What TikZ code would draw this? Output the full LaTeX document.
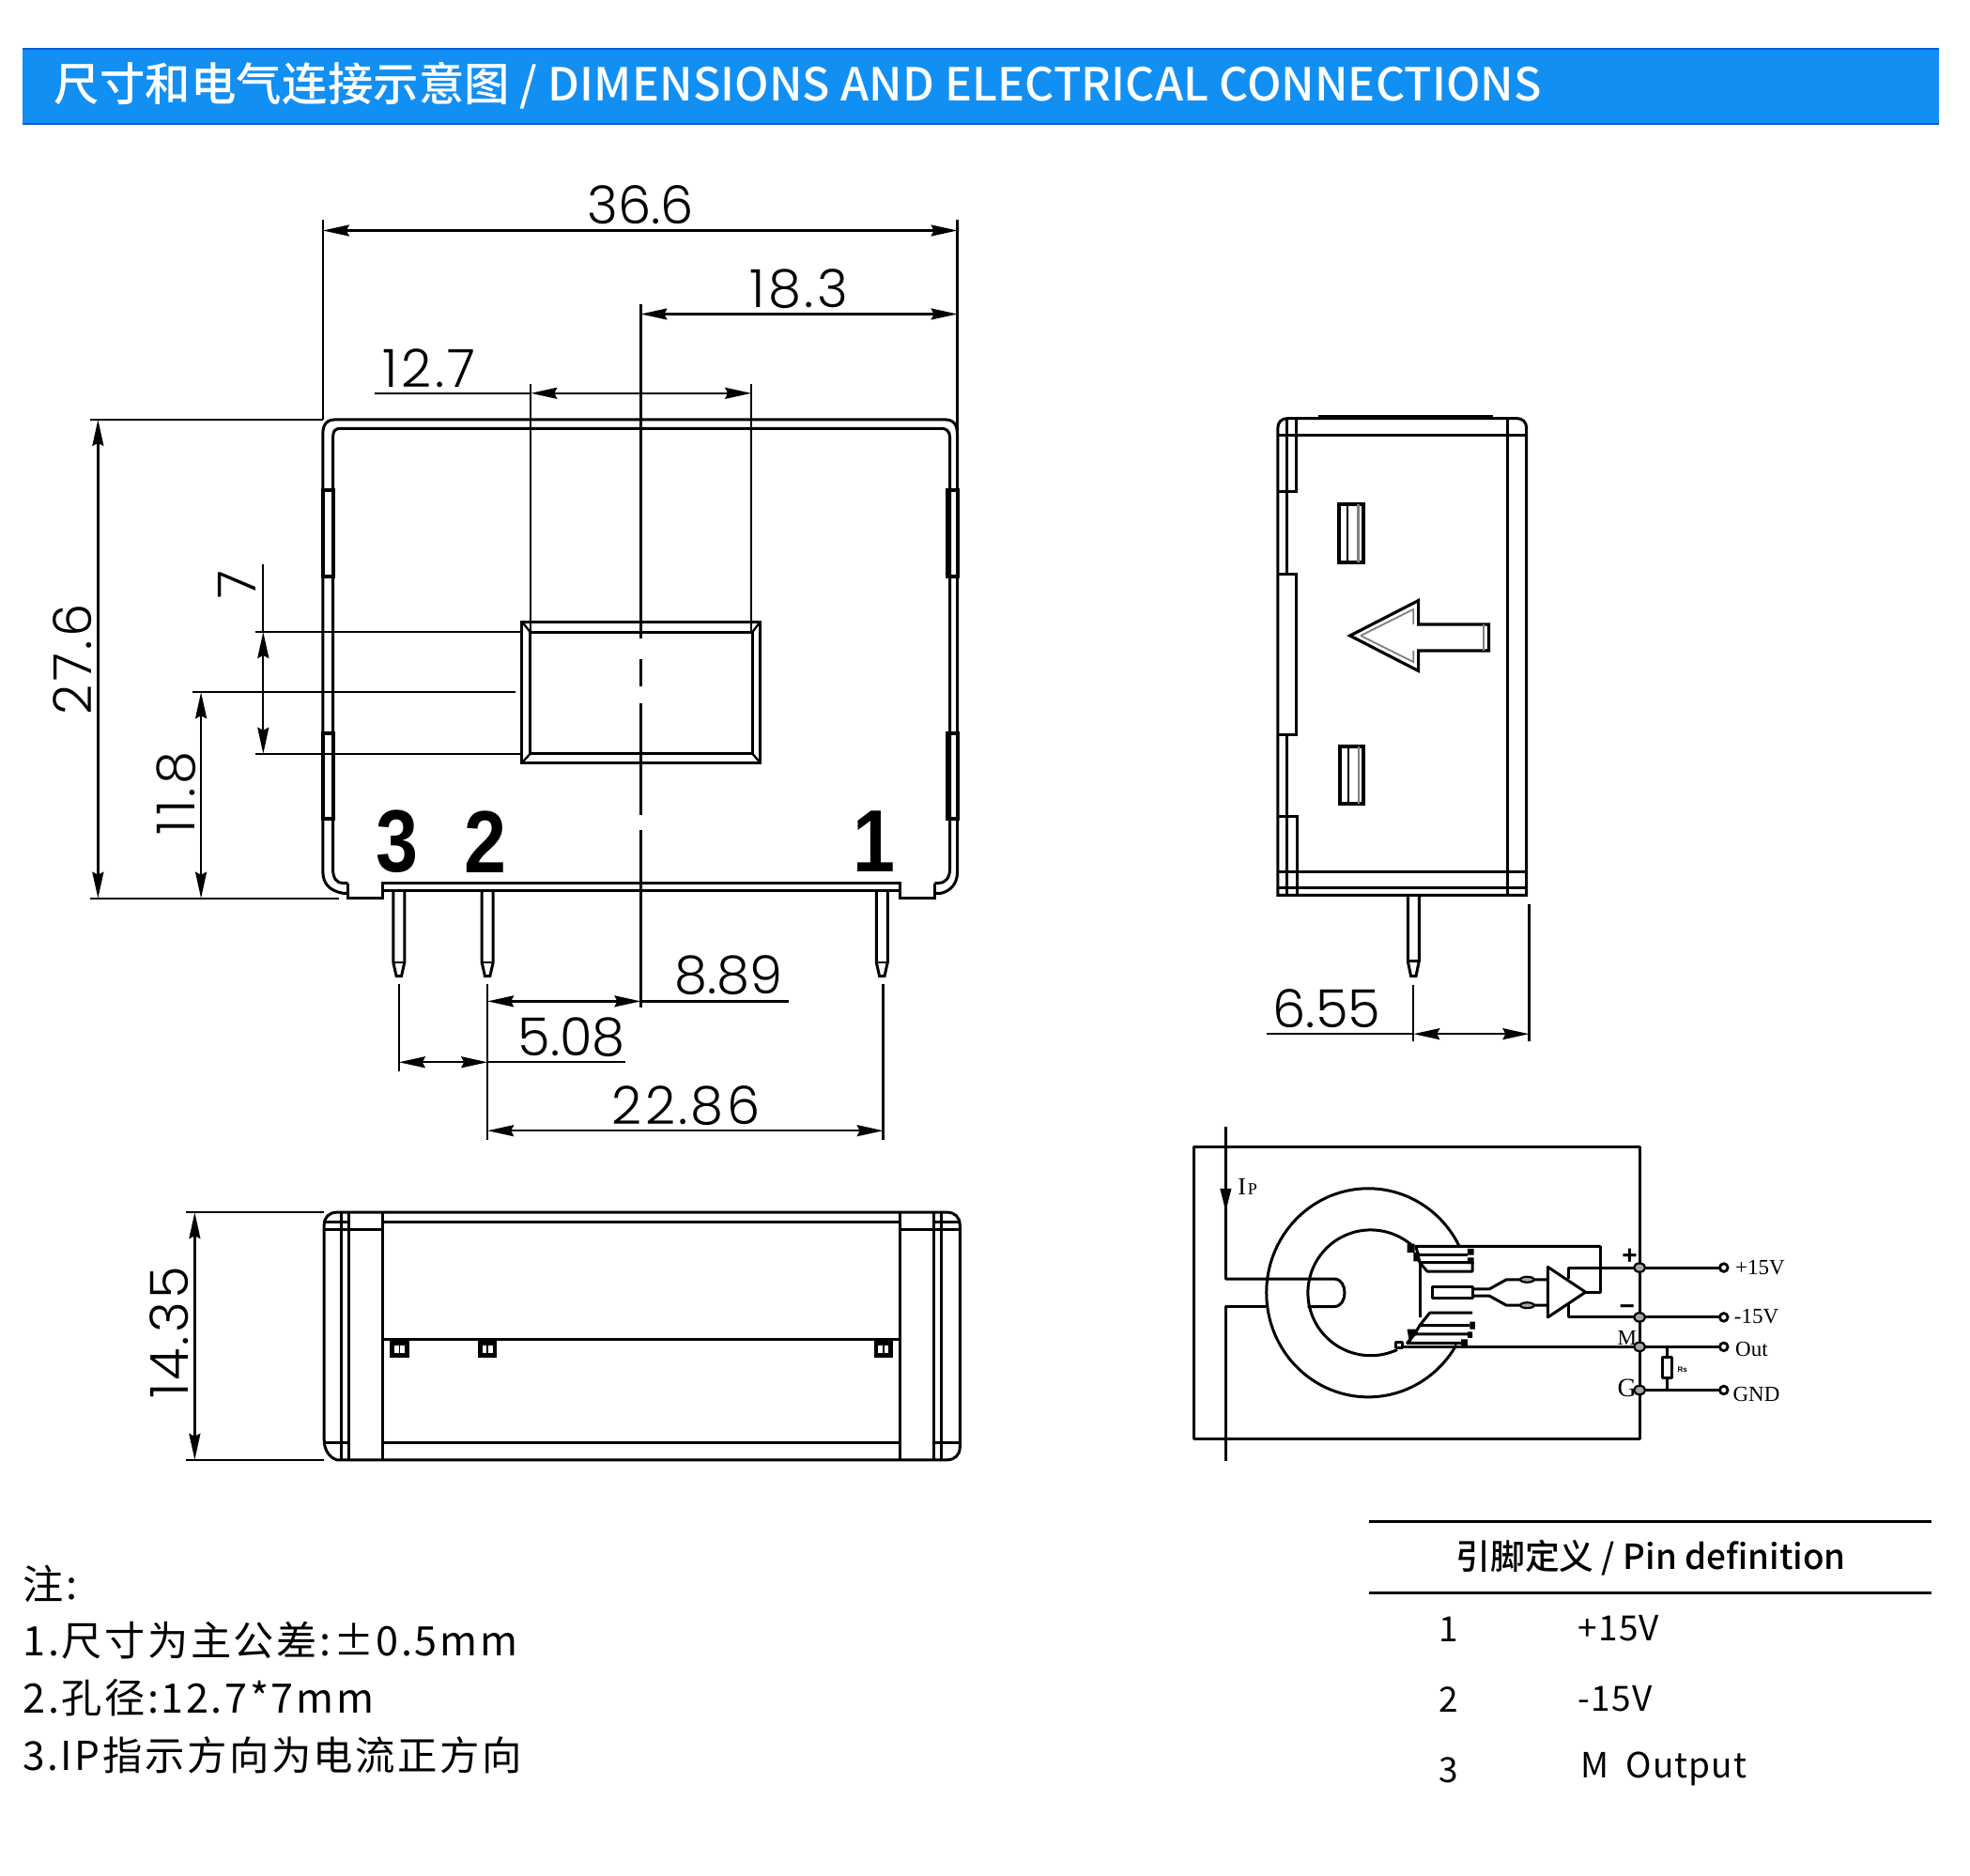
\documentclass[tikz,border=0pt]{standalone}
\usepackage{fontspec}
\setmainfont{Liberation Sans}
\newfontfamily\cjk{Noto Sans CJK SC}[UprightFont=* Medium]
\newfontfamily\cjkn{Noto Sans CJK SC}[UprightFont=* Medium,LetterSpace=0.25]
\newfontfamily\cjksp{Noto Sans CJK SC}[LetterSpace=6]
\newfontfamily\cjktb{Noto Sans CJK SC}[LetterSpace=3]
\newfontfamily\cad{Poppins}[UprightFont=* Light]
\newfontfamily\cadw{Poppins}[UprightFont=* Light,LetterSpace=6]
\newfontfamily\serifc{Liberation Serif}
\usetikzlibrary{arrows.meta,calc}
\tikzset{
  ln/.style={line width=1.5pt,line join=miter},
  thinln/.style={line width=1.15pt},
  dimarr/.style={line width=1.15pt,{Stealth[length=14pt,width=6pt,inset=1.5pt]}-{Stealth[length=14pt,width=6pt,inset=1.5pt]}},
  dimtxt/.style={inner sep=0pt,font=\cad\fontsize{28}{30}\selectfont},
  dimwide/.style={inner sep=0pt,font=\cadw\fontsize{28}{30}\selectfont},
  pinno/.style={inner sep=0pt,xscale=0.86,font=\fontsize{47}{50}\selectfont\bfseries},
  cir/.style={line width=1.5pt,line join=round},
  cirtxt/.style={inner sep=0pt,font=\serifc\fontsize{11.5}{12}\selectfont},
  tbl/.style={inner sep=0pt,anchor=west,font=\cjktb\fontsize{18.5}{20}\selectfont},
  note/.style={inner sep=0pt,anchor=west,font=\cjksp\fontsize{21.6}{24}\selectfont},
  jn/.style={draw=black,fill=gray!70,line width=1.1pt},
  term/.style={draw=black,fill=white,line width=1.4pt}
}
\begin{document}
\begin{tikzpicture}[x=0.669pt,y=-0.669pt]
\useasboundingbox (0,0) rectangle (1568,1493);
\fill[white] (0,0) rectangle (1568,1493);
% ---------- banner
\fill[fill={rgb,255:red,18;green,143;blue,243}] (18,38) rectangle (1543,99);
\draw[line width=1pt,draw={rgb,255:red,10;green,90;blue,215}] (18,38.5) -- (1543,38.5);
\draw[line width=1.2pt,draw={rgb,255:red,10;green,90;blue,215}] (18,98.5) -- (1543,98.5);
\node[inner sep=0pt,anchor=west,text=white,font=\cjkn\fontsize{24.2}{26}\selectfont] (title) at (43,68) {尺寸和电气连接示意图 / DIMENSIONS AND ELECTRICAL CONNECTIONS};
% ---------- front view body
\draw[ln] (277,711) -- (273,711) .. controls (262,709) and (257,703) .. (257,694) -- (257,345) .. controls (257,338) and (260,334) .. (267,334) -- (752,334) .. controls (759,334) and (762,338) .. (762,346) -- (762,694) .. controls (762,703) and (757,709) .. (749,711) -- (744,711);
\draw[ln] (277,703) -- (273,703) .. controls (268,703) and (265,699) .. (265,692) -- (265,348) .. controls (265,343) and (267,341) .. (271,341) -- (749,341) .. controls (753,341) and (756,343) .. (756,348) -- (756,692) .. controls (756,699) and (752,703) .. (747,703) -- (744,703);
\draw[ln] (277,703) -- (277,715) -- (304.5,715) -- (304.5,703) -- (716,703) -- (716,715) -- (744,715) -- (744,703);
\draw[ln] (304.5,709) -- (716,709);
\foreach \ya/\yb in {390/459,584/652}{
  \draw[line width=2pt] (257,\ya) rectangle (265,\yb);
  \draw[line width=2pt] (754,\ya) rectangle (762,\yb);
}
% window
\draw[ln] (415.5,495) rectangle (605,607);
\draw[ln] (422,503) rectangle (599,600);
\draw[thinln] (415.5,495) -- (422,503) (605,495) -- (599,503) (415.5,607) -- (422,600) (605,607) -- (599,600);
% pins
\foreach \px in {317.5,388,702}{
  \draw[ln] (\px-4.5,709) -- (\px-4.5,766) -- (\px-2,777) -- (\px+2,777) -- (\px+4.5,766) -- (\px+4.5,709);
  \draw[thinln] (\px-4.5,766) -- (\px+4.5,766);
}
\node[pinno] (p3) at (316,670) {3};
\node[pinno] (p2) at (386,670) {2};
\node[pinno] (p1) at (696,670) {1};
% centre line
\draw[thinln] (510,242) -- (510,508) (510,525) -- (510,546) (510,560) -- (510,649) (510,661) -- (510,802);
% dims top
\draw[thinln] (257,175) -- (257,334) (762,175) -- (762,346);
\draw[dimarr] (257,183.5) -- (762,183.5);
\node[dimtxt] (d366) at (510,163) {36.6};
\draw[dimarr] (510,250) -- (762,250);
\node[dimwide] (d183) at (636,230) {18.3};
\draw[thinln] (422.5,306) -- (422.5,503) (598,306) -- (598,503);
\draw[thinln] (298,313) -- (422.5,313);
\draw[dimarr] (422.5,313) -- (598,313);
\node[dimwide] (d127) at (340,293) {\kern2pt1\kern2pt 2.7};
% dims left
\draw[thinln] (72,334) -- (257,334) (72,715) -- (270,715);
\draw[dimarr] (78,334) -- (78,715);
\node[dimwide,rotate=90] (d276) at (58,525) {27.6};
\draw[thinln] (203,503) -- (415,503) (203,600) -- (415,600) (153,551) -- (410,551);
\draw[thinln] (209.5,449) -- (209.5,503);
\draw[dimarr] (209.5,503) -- (209.5,600);
\node[dimtxt,rotate=90] (d7) at (189,465) {7};
\draw[dimarr] (160,551) -- (160,715);
\node[dimwide,rotate=90] (d118) at (140,633) {\kern2pt1\kern2pt 1.8};
% dims bottom
\draw[thinln] (388,783) -- (388,907) (317.5,783) -- (317.5,853) (703,783) -- (703,907);
\draw[thinln] (510,797) -- (628,797);
\draw[dimarr] (388,797) -- (510,797);
\node[dimtxt] (d889) at (580,776) {8.89};
\draw[thinln] (388,845.5) -- (498,845.5);
\draw[dimarr] (317.5,845.5) -- (388,845.5);
\node[dimtxt] (d508) at (455,826) {5.08};
\draw[dimarr] (388,900) -- (703,900);
\node[dimwide] (d2286) at (546,880) {22.86};
% ---------- bottom view
\draw[ln] (268,965) -- (754,965) .. controls (760,965) and (764,969) .. (764,975) -- (764,1152) .. controls (764,1158) and (760,1162) .. (754,1162) -- (268,1162) .. controls (262,1160) and (258,1154) .. (258,1146) -- (258,975) .. controls (258,969) and (262,965) .. (268,965);
\draw[ln] (271.7,965) -- (271.7,1162) (277.3,965) -- (277.3,1162) (304.5,965) -- (304.5,1162);
\draw[ln] (716,965) -- (716,1162) (743.4,965) -- (743.4,1162) (749,965) -- (749,1162);
\draw[ln] (304.5,972.5) -- (716,972.5);
\draw[ln] (304.5,1066) -- (716,1066);
\draw[ln] (304.5,1148) -- (716,1148);
\draw[ln] (258,972.5) -- (277.3,972.5) (258,978.5) -- (304.5,978.5) (743.4,972.5) -- (764,972.5) (716,978.5) -- (764,978.5);
\draw[ln] (258,1148) -- (277.3,1148) (743.4,1148) -- (764,1148);
\foreach \px in {318,388,703}{
  \fill (\px-7.5,1067) rectangle (\px+7.5,1081);
  \fill[white] (\px-4,1071) rectangle (\px+4,1077);
  \fill[black] (\px-0.7,1071) rectangle (\px+0.7,1077);
}
\draw[thinln] (148,965) -- (258,965) (148,1162) -- (258,1162);
\draw[dimarr] (155,965) -- (155,1162);
\node[dimwide,rotate=90] (d1435) at (135,1062) {\kern2pt1\kern1pt 4.35};
% ---------- side view
\draw[ln] (1025,333) -- (1207,333) .. controls (1212,333) and (1215,336) .. (1215,341) -- (1215,712.5) -- (1017,712.5) -- (1017,341) .. controls (1017,336) and (1020,333) .. (1025,333);
\draw[line width=2.2pt] (1049,332) -- (1188,332);
\draw[ln] (1017,346.5) -- (1215,346.5) (1017,694) -- (1215,694) (1017,707) -- (1215,707);
\draw[ln] (1200,333) -- (1200,712.5);
\draw[ln] (1024.4,333) -- (1024.4,457) (1024.4,585) -- (1024.4,712.5);
\draw[ln] (1031.5,333) -- (1031.5,391) -- (1017,391);
\draw[ln] (1017,457) -- (1032,457) -- (1032,585) -- (1017,585);
\draw[ln] (1017,650) -- (1032.5,650) -- (1032.5,712.5);
\foreach \yt/\xt in {401.5/1066,594/1066.5}{
  \draw[line width=2pt] (\xt,\yt) rectangle (\xt+19,\yt+46);
  \draw[thinln] (\xt+6.5,\yt) -- (\xt+6.5,\yt+46);
  \draw[line width=1.4pt,gray] (\xt+15,\yt) -- (\xt+15,\yt+46);
}
\draw[line width=1.6pt,line join=miter] (1074.5,506) -- (1129,478) -- (1129,497) -- (1185,497) -- (1185,518) -- (1129,518) -- (1129,534) -- cycle;
\draw[line width=0.9pt,gray] (1083,506) -- (1125,485) -- (1125,497);
\draw[line width=0.9pt,gray] (1083,506) -- (1125,527) -- (1125,518);
\draw[line width=0.9pt,gray] (1181,497) -- (1181,518);
\draw[ln] (1120.5,712.5) -- (1120.5,765) -- (1123,777) -- (1127,777) -- (1129.5,765) -- (1129.5,712.5);
\draw[thinln] (1120.5,765) -- (1129.5,765);
\draw[thinln] (1125,784) -- (1125,829) (1217,720) -- (1217,829);
\draw[thinln] (1008,823) -- (1125,823);
\draw[dimarr] (1125,823) -- (1217,823);
\node[dimtxt] (d655) at (1056,803) {6.55};
% ---------- circuit
\draw[cir] (950,913) rectangle (1305,1145);
\draw[cir] (975.6,897) -- (975.6,1018) -- (1062,1018) .. controls (1073,1018) and (1073,1040) .. (1062,1040) -- (1040.8,1040);
\draw[cir] (1007.6,1040) -- (975.6,1040) -- (975.6,1163);
\fill (975.6,964) -- (971,946) -- (980.2,946) -- cycle;
\node[inner sep=0pt,font=\serifc\fontsize{13}{14}\selectfont] (ip) at (993,945) {I\kern1pt{\fontsize{9}{10}\selectfont P}};
\draw[cir,domain=26:330,samples=90,smooth] plot ({1089+81*cos(\x)},{1029-83*sin(\x)});
\draw[cir,domain=50:295,samples=70,smooth] plot ({1091+50*cos(\x)},{1029-50*sin(\x)});
\draw[cir] (1130.6,1006) -- (1130.6,1048.5);
% upper coil
\draw[cir] (1274,992) -- (1127,992) -- (1130,1005) -- (1172,1005);
\draw[cir] (1127,999) -- (1168,999);
\draw[cir] (1130,1005) -- (1136,1012) -- (1172,1012) -- (1172,1005);
\draw[cir] (1274,992) -- (1274,1028.5) -- (1262,1028.5);
\fill (1120,990) rectangle (1126,997) (1125,997) rectangle (1130,1004) (1168,994) rectangle (1173,999) (1168,1001) rectangle (1173,1006);
% lower coil
\draw[cir] (1172,1045) -- (1138,1045) -- (1130,1055) -- (1170,1055);
\draw[cir] (1130,1055) -- (1126,1062) -- (1168,1062);
\draw[cir] (1126,1062) -- (1120,1069) -- (1165,1069);
\fill (1170,1052) rectangle (1174,1058) (1168,1060) rectangle (1172,1065) (1163,1066) rectangle (1168,1071) (1120,1058) -- (1128,1058) -- (1122,1070) -- cycle;
\draw[cir,fill=white] (1111,1068) rectangle (1116,1073);
\draw[cir] (1116,1072) -- (1305,1072);
\draw[cir] (1140,1024) rectangle (1172,1033.5);
\draw[cir] (1172,1026) -- (1185.5,1026) -- (1199,1018.5) -- (1232,1018.5);
\draw[cir] (1172,1031.5) -- (1185.5,1031.5) -- (1199,1039) -- (1232,1039);
\foreach \wy in {1018.5,1039}{\draw[jn] (1215.5,\wy) ellipse [x radius=5.5,y radius=2.2];}
\draw[cir] (1232,1008.5) -- (1232,1048.5) -- (1262,1028.5) -- cycle;
\draw[cir] (1248.7,1018) -- (1248.7,1009) -- (1372,1009);
\draw[cir] (1248.7,1038) -- (1248.7,1048.5) -- (1372,1048.5);
\draw[cir] (1305,1072) -- (1372,1072);
\draw[cir] (1305,1106.5) -- (1372,1106.5);
\draw[cir] (1327,1072) -- (1327,1106.5);
\draw[cir,fill=white] (1323.5,1080.5) rectangle (1331,1097);
\node[inner sep=0pt,font=\fontsize{4}{5}\selectfont\bfseries] (rs) at (1339,1090) {Rs};
\foreach \jy in {1009,1048.5,1072,1106.5}{
  \draw[jn] (1305,\jy) ellipse [x radius=4.5,y radius=3.5];
  \draw[term] (1372,\jy) circle [radius=3.2];
}
\node[inner sep=0pt,font=\fontsize{14}{14}\selectfont\bfseries] (plus) at (1297,1000) {+};
\node[inner sep=0pt,font=\fontsize{14}{14}\selectfont\bfseries] (minus) at (1295,1043) {−};
\node[cirtxt] (lm) at (1295,1065) {M};
\node[cirtxt,font=\serifc\fontsize{14}{14}\selectfont] (lg) at (1295,1105) {G};
\node[cirtxt,anchor=west] (v1) at (1381,1009) {+15V};
\node[cirtxt,anchor=west] (v2) at (1380,1048) {-15V};
\node[cirtxt,anchor=west] (v3) at (1381,1074) {Out};
\node[cirtxt,anchor=west] (v4) at (1379,1110) {GND};
% ---------- pin table
\draw[line width=1.4pt] (1090,1211) -- (1537,1211) (1090,1268) -- (1537,1268);
\node[tbl,anchor=center,font=\cjk\fontsize{18.4}{22}\selectfont] (th) at (1314,1240) {引脚定义 / Pin definition};
\node[tbl,anchor=center] (r1a) at (1153,1297) {1};
\node[tbl] (r1b) at (1256,1296) {+15V};
\node[tbl,anchor=center] (r2a) at (1153,1353) {2};
\node[tbl] (r2b) at (1256,1352) {-15V};
\node[tbl,anchor=center] (r3a) at (1153,1409) {3};
\node[tbl] (r3b) at (1258,1408) {M\kern9pt Output};
% ---------- notes
\node[note] (n0) at (18,1261) {注:};
\node[note] (n1) at (18,1306) {1.尺寸为主公差:±0.5mm};
\node[note] (n2) at (18,1351) {2.孔径:12.7*7mm};
\node[note,font=\cjksp\fontsize{21.2}{24}\selectfont] (n3) at (18,1397) {3.IP指示方向为电流正方向};
\end{tikzpicture}
\end{document}
